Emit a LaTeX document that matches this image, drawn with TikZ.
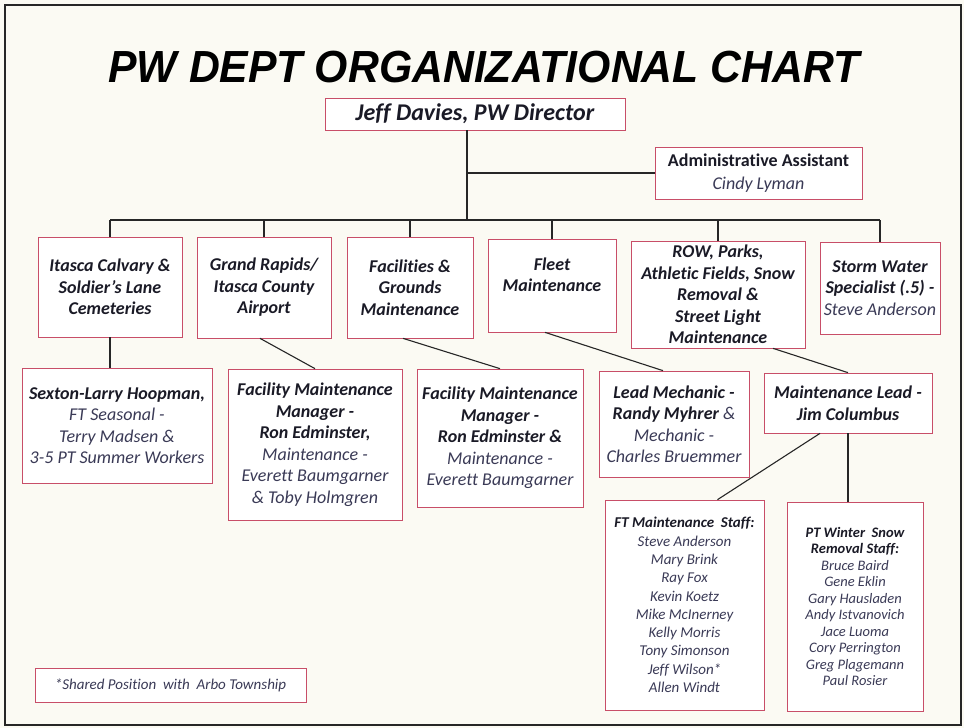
\documentclass[tikz,border=0pt]{standalone}
\usepackage{fontspec}
\setmainfont{Carlito}[Ligatures=NoCommon]
\newfontfamily\headfont{Liberation Sans}
\usetikzlibrary{positioning, calc}

\definecolor{boxred}{RGB}{200, 78, 104}
\definecolor{ink}{RGB}{26, 26, 38}
\definecolor{inksoft}{RGB}{58, 58, 86}
\definecolor{paper}{RGB}{251, 250, 243}
% names under a heading are set lighter
\newcommand{\who}[1]{{\mdseries\color{inksoft}#1}}

\begin{document}
\begin{tikzpicture}[x=1pt, y=-1pt,
  post/.style={draw=boxred, line width=0.7pt, fill=white, align=center, inner sep=1pt, text=ink,
    font=\fontsize{18}{21.5}\selectfont\bfseries\itshape},
  staff/.style={post, font=\fontsize{15}{18.3}\selectfont\itshape},
  link/.style={draw=black!85, line width=1.1pt}]

% page and frame
\fill[paper] (0,0) rectangle (964,728);
\useasboundingbox (0,0) rectangle (964,728);
\draw[black!85, line width=2.5pt] (5,5) rectangle (961,725);

\node[text=black, font=\fontsize{45}{45}\headfont\bfseries\itshape] (title) at (484,67) {\scalebox{0.95}[1]{PW DEPT ORGANIZATIONAL CHART}};

% director and assistant
\node[post, minimum width=300pt, minimum height=32pt, font=\fontsize{24}{26}\selectfont\bfseries\itshape] (dir) at (475,114) {Jeff Davies, PW Director};
\node[post, minimum width=207pt, minimum height=52pt, font=\fontsize{18}{23}\selectfont\bfseries] (admin) at (758.5,173) {Administrative Assistant\\ \who{\itshape Cindy Lyman}};

% divisions
\node[post, minimum width=144pt, minimum height=100pt] (cem) at (110,287) {Itasca Calvary \&\\ Soldier's Lane\\ Cemeteries};
\node[post, minimum width=134pt, minimum height=101pt] (air) at (264,287.5) {Grand Rapids/\\ Itasca County\\ Airport};
\node[post, minimum width=126pt, minimum height=101pt] (fac) at (410,287.5) {Facilities \&\\ Grounds\\ Maintenance};
\node[post, minimum width=128pt, minimum height=93pt] (fleet) at (552,285.5) {Fleet\\ Maintenance\\ \mbox{}};
\node[post, minimum width=174pt, minimum height=107pt] (row) at (718,294.5) {ROW, Parks,\\ Athletic Fields, Snow\\ Removal \&\\ Street Light\\ Maintenance};
\node[post, minimum width=120pt, minimum height=92pt] (storm) at (880,288) {Storm Water\\ Specialist (.5) -\\ \who{Steve Anderson}};

% leads
\node[post, minimum width=190pt, minimum height=115pt] (sex) at (117,425.5) {Sexton-Larry Hoopman,\\ \who{FT Seasonal -}\\ \who{Terry Madsen \&}\\ \who{3-5 PT Summer Workers}};
\node[post, minimum width=174pt, minimum height=151pt] (fm1) at (315,444.5) {Facility Maintenance\\ Manager -\\ Ron Edminster,\\ \who{Maintenance -}\\ \who{Everett Baumgarner}\\ \who{\& Toby Holmgren}};
\node[post, minimum width=166pt, minimum height=138pt] (fm2) at (500,438) {Facility Maintenance\\ Manager -\\ Ron Edminster \&\\ \who{Maintenance -}\\ \who{Everett Baumgarner}};
\node[post, minimum width=150pt, minimum height=106pt] (mech) at (674,424) {Lead Mechanic -\\ Randy Myhrer \who{\&}\\ \who{Mechanic -}\\ \who{Charles Bruemmer}};
\node[post, minimum width=168pt, minimum height=60pt] (lead) at (848,403) {Maintenance Lead -\\ Jim Columbus};

% crews
\node[staff, minimum width=159pt, minimum height=210pt] (ft) at (684.5,605) {\textbf{FT Maintenance~ Staff:}\\ \who{Steve Anderson}\\ \who{Mary Brink}\\ \who{Ray Fox}\\ \who{Kevin Koetz}\\ \who{Mike McInerney}\\ \who{Kelly Morris}\\ \who{Tony Simonson}\\ \who{Jeff Wilson*}\\ \who{Allen Windt}};
\node[staff, minimum width=136pt, minimum height=209pt, font=\fontsize{14.5}{16.5}\selectfont\itshape] (pt) at (855,606.5) {\textbf{PT Winter~ Snow}\\ \textbf{Removal Staff:}\\ \who{Bruce Baird}\\ \who{Gene Eklin}\\ \who{Gary Hausladen}\\ \who{Andy Istvanovich}\\ \who{Jace Luoma}\\ \who{Cory Perrington}\\ \who{Greg Plagemann}\\ \who{Paul Rosier}};

\node[staff, minimum width=271pt, minimum height=34pt, font=\fontsize{15}{17}\selectfont\itshape] (note) at (170.5,685) {\who{*Shared Position~ with~ Arbo Township}};

% connectors
\coordinate (trunk) at ([xshift=-8pt]dir.south);
\coordinate (hub) at (467,220);
\draw[link] (trunk) -- (hub);
\draw[link] (admin.west) -- (admin.west -| trunk);
\draw[link] (cem.north |- hub) -- (storm.north |- hub);
\foreach \n in {cem,air,fac,fleet,row,storm}
  \draw[link] (\n.north) -- (\n.north |- hub);

\draw[link] (cem.south) -- (cem.south |- sex.north);
\draw[link] ([xshift=-4pt]air.south) -- (fm1.north);
\draw[link] ([xshift=-7pt]fac.south) -- (fm2.north);
\draw[link] ([xshift=-7pt]fleet.south) -- ([xshift=-11pt]mech.north);
\draw[link] ([xshift=55pt]row.south) -- (lead.north);
\draw[link] ([xshift=-28pt]lead.south) -- ([xshift=33pt]ft.north);
\draw[link] (lead.south) -- (lead.south |- pt.north);
\end{tikzpicture}
\end{document}
